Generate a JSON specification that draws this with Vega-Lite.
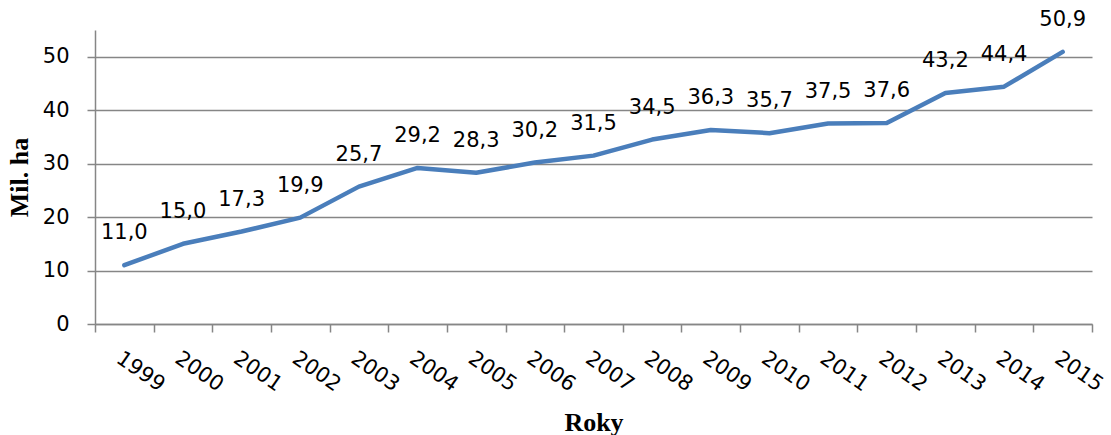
{
  "$schema": "https://vega.github.io/schema/vega-lite/v6.json",
  "autosize": "none",
  "width": 997,
  "height": 294,
  "padding": {"left": 95, "top": 30, "right": 19, "bottom": 111},
  "background": "white",
  "config": {
    "locale": {"number": {"decimal": ",", "thousands": " ", "grouping": [3], "currency": ["", " Kč"]}},
    "view": {"stroke": null},
    "font": "DejaVu Sans"
  },
  "data": {"values": [
    {"rok": "1999", "ha": 11.0}, {"rok": "2000", "ha": 15.0}, {"rok": "2001", "ha": 17.3},
    {"rok": "2002", "ha": 19.9}, {"rok": "2003", "ha": 25.7}, {"rok": "2004", "ha": 29.2},
    {"rok": "2005", "ha": 28.3}, {"rok": "2006", "ha": 30.2}, {"rok": "2007", "ha": 31.5},
    {"rok": "2008", "ha": 34.5}, {"rok": "2009", "ha": 36.3}, {"rok": "2010", "ha": 35.7},
    {"rok": "2011", "ha": 37.5}, {"rok": "2012", "ha": 37.6}, {"rok": "2013", "ha": 43.2},
    {"rok": "2014", "ha": 44.4}, {"rok": "2015", "ha": 50.9}
  ]},
  "encoding": {
    "x": {"field": "rok", "type": "ordinal", "title": "Roky",
      "scale": {"type": "band", "paddingInner": 0, "paddingOuter": 0},
      "axis": {"tickBand": "extent", "grid": false, "domainColor": "#868686", "domainWidth": 1.5,
        "tickColor": "#868686", "tickWidth": 1.5, "tickSize": 8,
        "labelAngle": 35, "labelAlign": "left", "labelBaseline": "top", "labelPadding": 15,
        "labelFont": "DejaVu Sans", "labelFontSize": 21, "labelColor": "black",
        "titleFont": "Liberation Serif", "titleFontWeight": "bold", "titleFontSize": 26,
        "titleColor": "black", "titleBaseline": "top", "titleY": 85}},
    "y": {"field": "ha", "type": "quantitative", "title": "Mil. ha",
      "scale": {"domain": [0, 55], "nice": false},
      "axis": {"values": [0, 10, 20, 30, 40, 50], "grid": true, "gridColor": "#868686", "gridWidth": 1.5,
        "domainColor": "#868686", "domainWidth": 1.5, "tickColor": "#868686", "tickWidth": 1.5, "tickSize": 8,
        "labelPadding": 18, "labelFont": "DejaVu Sans", "labelFontSize": 21, "labelColor": "black",
        "titleFont": "Liberation Serif", "titleFontWeight": "bold", "titleFontSize": 26,
        "titleColor": "black", "titlePadding": 10}}
  },
  "layer": [
    {"mark": {"type": "line", "color": "#4A7EBB", "strokeWidth": 4.5, "strokeCap": "round", "strokeJoin": "round"}},
    {"mark": {"type": "text", "dy": -32, "fontSize": 21, "font": "DejaVu Sans", "color": "black", "baseline": "middle"},
      "encoding": {"text": {"field": "ha", "type": "quantitative", "format": ".1f"}}}
  ]
}
